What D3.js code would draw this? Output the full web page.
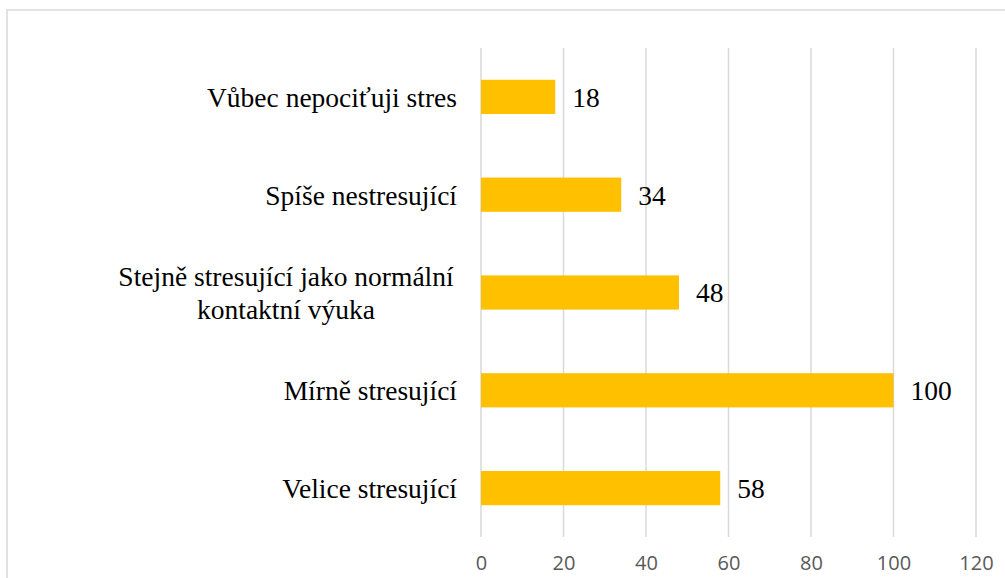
<!DOCTYPE html>
<html>
<head>
<meta charset="utf-8">
<script src="https://cdn.jsdelivr.net/npm/d3@7"></script>
<style>
  body { margin: 0; background: #fff; }
  svg { display: block; }
  .serif { font-family: 'Liberation Serif', 'Times New Roman', 'DejaVu Serif', serif; font-size: 27.5px; }
</style>
</head>
<body>
<svg width="1005" height="578"></svg>
<script>
const categories = [
  ["Vůbec nepociťuji stres"],
  ["Spíše nestresující"],
  ["Stejně stresující jako normální", "kontaktní výuka"],
  ["Mírně stresující"],
  ["Velice stresující"]
]
const values = [18, 34, 48, 100, 58]
const ticks = [0, 20, 40, 60, 80, 100, 120]

const svg = d3.select('svg')

// chart frame
svg.append('rect')
    .attr('x', 7).attr('y', 10)
    .attr('width', 1010).attr('height', 580)
    .attr('fill', 'none')
    .attr('stroke', '#d9d9d9')
    .attr('stroke-width', 1.5)

const x = d3.scaleLinear()
    .domain([0, 120])
    .range([481, 976])

const y = d3.scaleBand()
    .domain(d3.range(values.length))
    .range([48, 537])
    .paddingInner(0.65)
    .paddingOuter(0.325)

// gridlines
svg.append('g')
    .selectAll('line')
    .data(ticks)
    .enter().append('line')
    .attr('x1', d => x(d)).attr('x2', d => x(d))
    .attr('y1', 48).attr('y2', 537)
    .attr('stroke', '#d9d9d9')
    .attr('stroke-width', 1.5)

// x axis labels, baseline kept just inside the bottom edge
const xAxis = svg.append('g')
    .attr('transform', 'translate(0,537)')
    .call(d3.axisBottom(x).tickValues(ticks).tickSize(0).tickPadding(0))
xAxis.select('.domain').remove()
xAxis.attr('font-family', '"Open Sans", sans-serif').attr('font-size', 20)
xAxis.selectAll('text')
    .attr('dy', null)
    .attr('y', 33)
    .attr('fill', '#595959')

// bars
svg.append('g')
    .selectAll('rect')
    .data(values)
    .enter().append('rect')
    .attr('x', x(0))
    .attr('y', (d, i) => y(i))
    .attr('width', d => x(d) - x(0))
    .attr('height', y.bandwidth())
    .attr('fill', '#ffc000')

// value labels
svg.append('g')
    .selectAll('text')
    .data(values)
    .enter().append('text')
    .attr('class', 'serif')
    .attr('x', d => x(d) + 17)
    .attr('y', (d, i) => y(i) + y.bandwidth() / 2)
    .attr('dy', '0.36em')
    .attr('fill', '#000')
    .text(d => d)

// category labels
const cat = svg.append('g')
    .selectAll('text')
    .data(categories)
    .enter().append('text')
    .attr('class', 'serif')
    .attr('text-anchor', 'middle')
    .attr('x', 286)
    .attr('y', (d, i) => y(i) + y.bandwidth() / 2)
    .attr('fill', '#000')
cat.each(function(d) {
    const t = d3.select(this)
    const n = d.length
    d.forEach((line, k) => {
        t.append('tspan')
            .attr('x', 286)
            .attr('dy', k === 0 ? (0.36 - (n - 1) * 0.6) + 'em' : '1.2em')
            .text(line)
    })
})
// right-align single line labels to the plot edge, center the wrapped one
cat.filter(d => d.length === 1)
    .attr('text-anchor', 'end')
    .selectAll('tspan').attr('x', 457)
</script>
</body>
</html>
